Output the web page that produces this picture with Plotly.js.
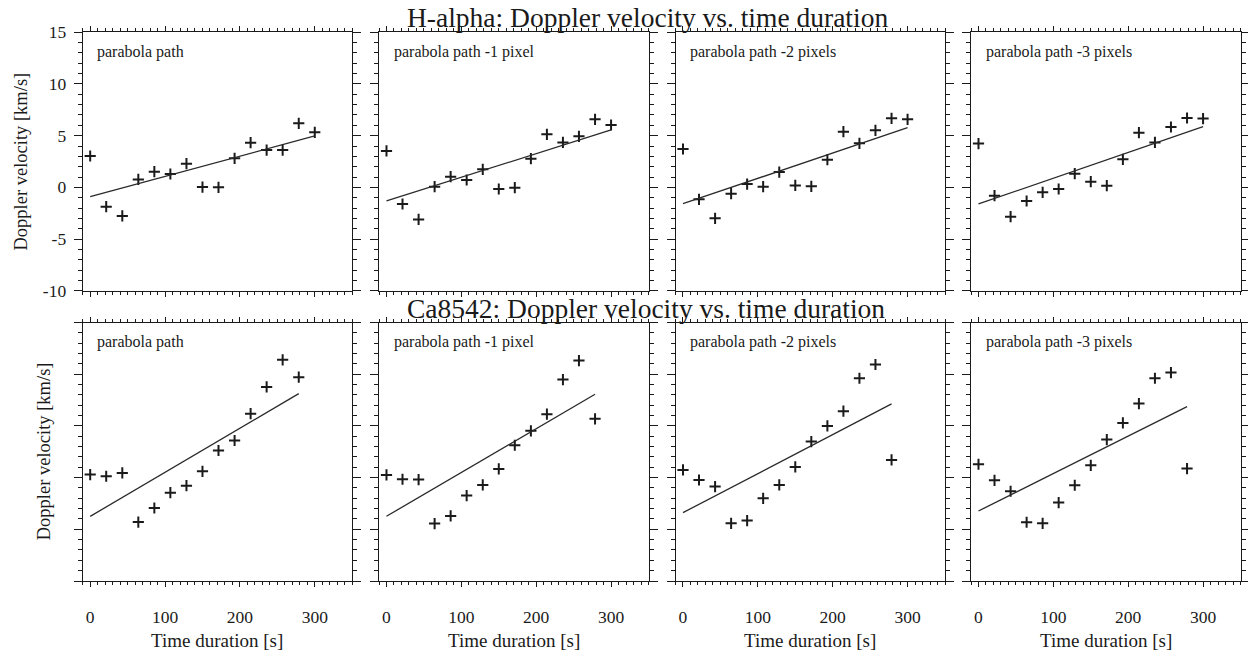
<!DOCTYPE html>
<html>
<head>
<meta charset="utf-8">
<script src="https://cdn.plot.ly/plotly-3.0.1.min.js"></script>
<style>html,body{margin:0;padding:0;background:#fff;}#chart{width:1248px;height:653px;}</style>
</head>
<body>
<div id="chart"></div>
<script>
// ---------- data ----------
const timeHalpha = [0, 21.4, 42.9, 64.3, 85.7, 107.1, 128.6, 150, 171.4, 192.9, 214.3, 235.7, 257.1, 278.6, 300];
const timeCa = [0, 21.4, 42.9, 64.3, 85.7, 107.1, 128.6, 150, 171.4, 192.9, 214.3, 235.7, 257.1, 278.6];

const panelLabels = ["parabola path", "parabola path -1 pixel", "parabola path -2 pixels", "parabola path -3 pixels"];

const haPath0 = [3.03, -1.87, -2.77, 0.77, 1.52, 1.29, 2.29, 0.03, 0.00, 2.81, 4.32, 3.61, 3.61, 6.19, 5.32];
const haPath1 = [3.52, -1.61, -3.10, 0.06, 1.03, 0.71, 1.74, -0.16, -0.03, 2.77, 5.13, 4.35, 4.94, 6.58, 6.03];
const haPath2 = [3.71, -1.16, -3.00, -0.61, 0.32, 0.06, 1.48, 0.19, 0.10, 2.68, 5.39, 4.26, 5.52, 6.68, 6.58];
const haPath3 = [4.23, -0.81, -2.84, -1.32, -0.48, -0.16, 1.32, 0.55, 0.16, 2.71, 5.29, 4.35, 5.84, 6.71, 6.65];

const caPath0 = [0.29, 0.13, 0.45, -4.30, -2.94, -1.46, -0.78, 0.61, 2.62, 3.59, 6.18, 8.77, 11.39, 9.71];
const caPath1 = [0.26, -0.16, -0.19, -4.45, -3.71, -1.74, -0.71, 0.84, 3.13, 4.52, 6.13, 9.48, 11.32, 5.68];
const caPath2 = [0.74, -0.23, -0.87, -4.42, -4.16, -2.00, -0.71, 1.03, 3.48, 5.00, 6.42, 9.61, 10.94, 1.71];
const caPath3 = [1.29, -0.26, -1.32, -4.32, -4.42, -2.42, -0.74, 1.19, 3.68, 5.29, 7.16, 9.61, 10.16, 0.87];

// fitted line end values (start at first time, end at last time)
const haFitStart = [-0.90, -1.32, -1.58, -1.61];
const haFitEnd   = [4.97, 5.55, 5.77, 5.87];
const caFitStart = [-3.75, -3.74, -3.39, -3.23];
const caFitEnd   = [8.12, 8.06, 7.13, 6.87];

const xTickVals = [0, 100, 200, 300];
const xTickText = ["0", "100", "200", "300"];
const yTickVals = [-10, -5, 0, 5, 10, 15];
const yTickText = ["-10", "-5", "0", "5", "10", "15"];

const titleHalpha = "H-alpha: Doppler velocity vs. time duration";
const titleCa = "Ca8542: Doppler velocity vs. time duration";
const yTitle = "Doppler velocity [km/s]";
const xTitle = "Time duration [s]";

// ---------- layout ----------
const W = 1248, H = 653;
const colLeft = [82.7, 379, 675.5, 971];
const colWidth = 269.5;
const rowTop = [32.3, 322.5];
const rowBottom = [290.7, 581];
const FONT = "'Liberation Serif', 'Times New Roman', Times, serif";
const INK = "#1a1a1a";

const haSeries = [haPath0, haPath1, haPath2, haPath3];
const caSeries = [caPath0, caPath1, caPath2, caPath3];

const px = x => x / W;
const py = y => 1 - y / H;

const traces = [];
const layout = {
  width: W, height: H,
  margin: {l: 0, r: 0, t: 0, b: 0},
  paper_bgcolor: "#fff", plot_bgcolor: "#fff",
  showlegend: false,
  font: {family: FONT, color: INK},
  annotations: []
};

let n = 0;
for (let r = 0; r < 2; r++) {
  for (let c = 0; c < 4; c++) {
    n++;
    const xa = n === 1 ? "x" : "x" + n;
    const ya = n === 1 ? "y" : "y" + n;
    const t = r === 0 ? timeHalpha : timeCa;
    const v = r === 0 ? haSeries[c] : caSeries[c];
    const fs = r === 0 ? haFitStart[c] : caFitStart[c];
    const fe = r === 0 ? haFitEnd[c] : caFitEnd[c];
    traces.push({
      x: t, y: v, xaxis: xa, yaxis: ya, type: "scatter", mode: "markers",
      marker: {symbol: "cross-thin", size: 8, color: INK, line: {color: INK, width: 2}},
      hoverinfo: "skip"
    });
    traces.push({
      x: [t[0], t[t.length - 1]], y: [fs, fe], xaxis: xa, yaxis: ya,
      type: "scatter", mode: "lines", line: {color: "#2a2a2a", width: 1.3},
      hoverinfo: "skip"
    });
    const xKey = n === 1 ? "xaxis" : "xaxis" + n;
    const yKey = n === 1 ? "yaxis" : "yaxis" + n;
    layout[xKey] = {
      domain: [px(colLeft[c]), px(colLeft[c] + colWidth)],
      anchor: ya, range: [-10, 350],
      tickmode: "array", tickvals: xTickVals, ticktext: xTickText,
      showticklabels: r === 1,
      ticks: "outside", ticklen: 5, tickwidth: 1, tickcolor: INK,
      minor: {dtick: 10, tick0: 0, ticks: "outside", ticklen: 3, tickwidth: 1, tickcolor: INK, showgrid: false},
      showline: true, linecolor: INK, linewidth: 1, mirror: "ticks",
      showgrid: false, zeroline: false,
      tickfont: {family: FONT, size: 17.5, color: INK},
      ticklabelstandoff: 15
    };
    layout[yKey] = {
      domain: [py(rowBottom[r]), py(rowTop[r])],
      anchor: xa, range: [-10, 15],
      tickmode: "array", tickvals: yTickVals, ticktext: yTickText,
      showticklabels: r === 0 && c === 0,
      ticks: "outside", ticklen: 8, tickwidth: 1, tickcolor: INK,
      minor: {dtick: 1, tick0: 0, ticks: "outside", ticklen: 4, tickwidth: 1, tickcolor: INK, showgrid: false},
      showline: true, linecolor: INK, linewidth: 1, mirror: "ticks",
      showgrid: false, zeroline: false,
      tickfont: {family: FONT, size: 17.5, color: INK},
      ticklabelstandoff: 4
    };
    // panel label
    layout.annotations.push({
      text: panelLabels[c], xref: "paper", yref: "paper",
      x: px(colLeft[c] + 12.5), y: py(rowTop[r] + 19.5),
      xanchor: "left", yanchor: "middle", showarrow: false,
      font: {family: FONT, size: 16, color: INK}
    });
    if (r === 1) {
      layout.annotations.push({
        text: xTitle, xref: "paper", yref: "paper",
        x: px(colLeft[c] + colWidth / 2), y: py(640),
        xanchor: "center", yanchor: "middle", showarrow: false,
        font: {family: FONT, size: 19, color: INK}
      });
    }
  }
}

// y-axis titles
layout.annotations.push({
  text: yTitle, xref: "paper", yref: "paper",
  x: px(21), y: py((rowTop[0] + rowBottom[0]) / 2),
  xanchor: "center", yanchor: "middle", textangle: -90, showarrow: false,
  font: {family: FONT, size: 18.5, color: INK}
});
layout.annotations.push({
  text: yTitle, xref: "paper", yref: "paper",
  x: px(43.5), y: py((rowTop[1] + rowBottom[1]) / 2),
  xanchor: "center", yanchor: "middle", textangle: -90, showarrow: false,
  font: {family: FONT, size: 18.5, color: INK}
});
// row titles
layout.annotations.push({
  text: titleHalpha, xref: "paper", yref: "paper",
  x: px(405), y: py(17), xanchor: "left", yanchor: "middle", showarrow: false,
  font: {family: FONT, size: 27.5, color: INK}
});
layout.annotations.push({
  text: titleCa, xref: "paper", yref: "paper",
  x: px(405), y: py(308), xanchor: "left", yanchor: "middle", showarrow: false,
  font: {family: FONT, size: 27.5, color: INK}
});

Plotly.newPlot("chart", traces, layout, {staticPlot: true, displayModeBar: false});
</script>
</body>
</html>
